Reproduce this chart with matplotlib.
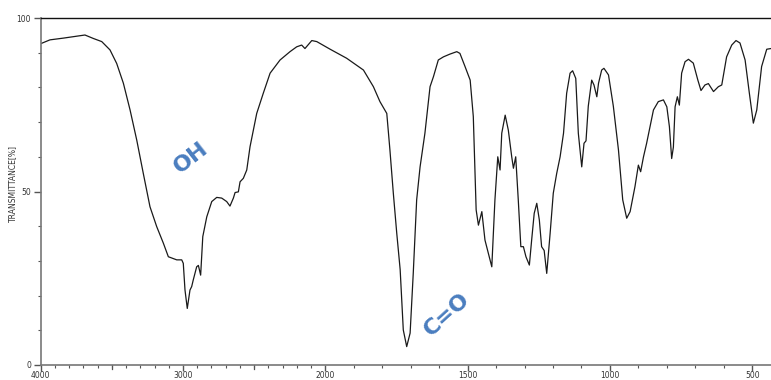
import numpy as np
import matplotlib
matplotlib.use("Agg")
import matplotlib.pyplot as plt
from matplotlib.ticker import FixedLocator, NullFormatter

wavenumber = [
    4000, 3935, 3841, 3724, 3689, 3630, 3571, 3513, 3466, 3419, 3372, 3325,
    3279, 3232, 3185, 3138, 3103, 3044, 3009, 2998, 2986, 2970, 2951, 2939,
    2928, 2904, 2892, 2876, 2861, 2833, 2798, 2763, 2728, 2693, 2670, 2646,
    2634, 2611, 2599, 2576, 2552, 2529, 2482, 2436, 2388, 2318, 2248, 2201,
    2166, 2143, 2095, 2060, 1983, 1925, 1866, 1831, 1808, 1784, 1773, 1761,
    1749, 1737, 1726, 1714, 1702, 1691, 1679, 1667, 1650, 1632, 1620, 1603,
    1585, 1562, 1538, 1527, 1509, 1491, 1480, 1470, 1462, 1450, 1439, 1427,
    1415, 1404, 1394, 1386, 1380, 1368, 1357, 1345, 1339, 1331, 1322, 1313,
    1304, 1295, 1283, 1275, 1266, 1257, 1248, 1240, 1231, 1222, 1210, 1199,
    1187, 1175, 1163, 1152, 1140, 1131, 1120, 1111, 1099, 1091, 1084, 1076,
    1064, 1056, 1046, 1040, 1029, 1021, 1005, 988, 970, 955, 941, 929,
    912, 900, 892, 882, 871, 859, 847, 830, 812, 800, 791, 783,
    777, 771, 763, 756, 748, 736, 724, 707, 691, 680, 666, 654,
    636, 619, 607, 590, 572, 557, 543, 525, 510, 496, 484, 467,
    449, 434,
]
transmittance = [
    92.6, 93.7, 94.2, 94.9, 95.1, 94.1, 93.2, 90.8, 86.9, 81.2, 73.5, 64.8,
    55.2, 45.6, 39.9, 35.1, 31.2, 30.3, 30.3, 29.3, 21.6, 16.3, 21.6, 22.6,
    24.5, 28.3, 28.7, 25.9, 37.0, 42.7, 47.1, 48.3, 48.1, 47.1, 45.8, 48.1,
    49.7, 49.9, 52.8, 53.8, 56.2, 62.9, 72.5, 78.3, 84.1, 87.9, 90.3, 91.7,
    92.2, 91.2, 93.5, 93.2, 91.0, 88.4, 85.0, 80.2, 75.9, 72.5, 62.0, 49.5,
    38.0, 27.5, 10.1, 5.3, 9.2, 26.4, 47.6, 57.1, 66.8, 80.2, 83.1, 87.9,
    88.8, 89.6, 90.3, 89.8, 86.0, 82.1, 71.6, 44.7, 40.3, 44.2, 36.0, 32.2,
    28.3, 47.6, 60.0, 56.2, 66.8, 72.0, 67.7, 60.0, 56.7, 60.0, 47.6, 34.1,
    34.1, 31.2, 28.8, 36.0, 43.7, 46.6, 41.8, 34.1, 33.0, 26.4, 38.0, 49.5,
    55.2, 60.0, 66.8, 78.3, 84.1, 84.8, 82.6, 66.8, 57.1, 63.9, 64.6, 74.6,
    82.1, 80.7, 77.3, 81.2, 85.0, 85.5, 83.6, 74.6, 62.0, 47.6, 42.3, 44.2,
    51.4, 57.6, 55.7, 60.0, 63.9, 68.7, 73.5, 75.9, 76.4, 74.4, 68.7, 59.5,
    62.8, 74.4, 77.3, 74.9, 84.1, 87.4, 88.1, 87.0, 82.1, 79.1, 80.7, 81.1,
    78.8, 80.2, 80.7, 88.8, 92.2, 93.5, 92.8, 87.9, 78.3, 69.7, 73.5, 86.0,
    91.0, 91.2,
]

major_ticks = [4000, 3000, 2000, 1500, 1000, 500]
major_labels = ["4000", "3000", "2000", "1500", "1000", "500"]
medium_ticks = [3500, 2500]
y_ticks = [0, 50, 100]
y_labels = ["0", "50", "100"]
annotations = [("OH", 2944, 59.7, 38), ("C=O", 1572, 14.7, 42)]


def fwd(w):
    w = np.asarray(w, dtype=float)
    return np.where(w > 2000, 2000 + (w - 2000) / 2.0, w)


def inv(u):
    u = np.asarray(u, dtype=float)
    return np.where(u > 2000, 2000 + (u - 2000) * 2.0, u)


fig = plt.figure(figsize=(7.71, 3.80), dpi=100)
ax = fig.add_axes([40.7 / 771, 1 - 365 / 380, 1 - 40.7 / 771, (365 - 18) / 380])
ax.set_xscale("function", functions=(fwd, inv))
ax.plot(wavenumber, transmittance, color="#1a1a1a", lw=0.9)
ax.set_xlim(4000, 434)
ax.set_ylim(0, 100)

ax.spines["right"].set_visible(False)
ax.spines["top"].set_color("#111111")
ax.spines["top"].set_linewidth(1.0)
for s in ["left", "bottom"]:
    ax.spines[s].set_color("#777777")
    ax.spines[s].set_linewidth(1.2)

ax.xaxis.set_major_locator(FixedLocator(major_ticks))
ax.set_xticklabels(major_labels)
minor = [v for v in range(500, 4001, 100) if v not in major_ticks]
ax.xaxis.set_minor_locator(FixedLocator(minor))
ax.xaxis.set_minor_formatter(NullFormatter())
ax.tick_params(axis="x", which="major", length=4, width=1.0, color="#555555",
               labelsize=5.5, labelcolor="#333333", pad=0.5)
ax.tick_params(axis="x", which="minor", length=2.5, width=0.8, color="#555555")
for t in medium_ticks:
    ax.plot([t, t], [0, -1.2], color="#555555", lw=0.9, clip_on=False)

ax.yaxis.set_major_locator(FixedLocator(y_ticks))
ax.set_yticklabels(y_labels)
ax.yaxis.set_minor_locator(FixedLocator(list(range(10, 100, 10))))
ax.yaxis.set_minor_formatter(NullFormatter())
ax.tick_params(axis="y", which="major", length=5, width=1.0, color="#555555",
               labelsize=5.5, labelcolor="#333333", pad=2)
ax.tick_params(axis="y", which="minor", length=2.5, width=0.8, color="#555555")

fig.text(13 / 771, 1 - 183 / 380, "TRANSMITTANCE[%]", rotation=90,
         ha="center", va="center", fontsize=5.5, color="#333333")

for txt, xw, yt, rot in annotations:
    ax.text(xw, yt, txt, rotation=rot, rotation_mode="anchor", ha="center",
            va="center", fontsize=16, fontweight="bold", color="#4a7dbf")

fig.savefig("out.png", dpi=100)
